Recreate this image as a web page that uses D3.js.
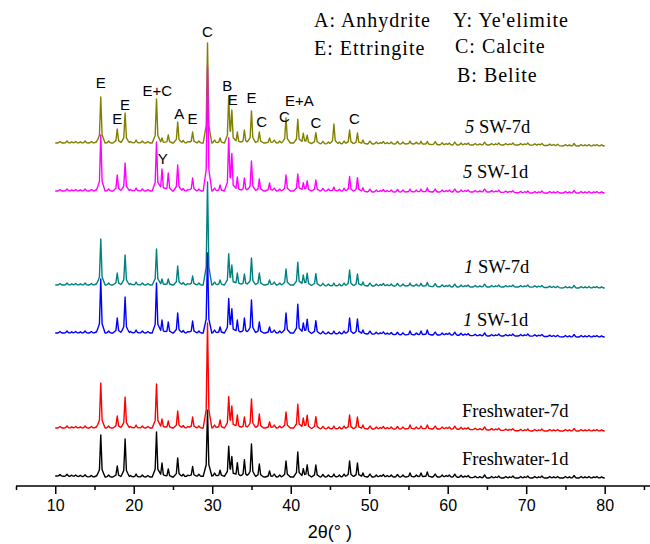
<!DOCTYPE html>
<html><head><meta charset="utf-8">
<script src="https://cdn.jsdelivr.net/npm/d3@7/dist/d3.min.js"></script>
<style>
html,body{margin:0;padding:0;background:#fff;}
svg{display:block;}
</style></head>
<body>
<svg id="chart" width="650" height="544"></svg>
<script>
// ---------- data ----------
const seriesNames = ["Freshwater-1d","Freshwater-7d","1 SW-1d","1 SW-7d","5 SW-1d","5 SW-7d"];
const seriesColors = ["#000000","#ff0000","#0000ff","#008080","#ff00ff","#808000"];
const xTickValues = [10,20,30,40,50,60,70,80];

// background level of each (vertically stacked) pattern, at these angles
const bgAngles = [10,15,20,25,30,35,40,45,50,55,60,65,70,75,80];
const bgFresh1 = [10,9,9,9,10,9,9,9,9,9,9,8,8,8,8];
const bgFresh7 = [58,58,58,58,58,58,58,57,57,57,57,56,55,55,55];
const bgSW1_1  = [153,153,153,153,153,153,153,152,152,151,151,150,150,149,149];
const bgSW1_7  = [201,201,201,201,201,201,201,200,200,200,199,199,199,198,198];
const bgSW5_1  = [295,295,295,295,295,295,295,295,294,294,294,294,293,293,293];
const bgSW5_7  = [343,343,343,343,343,343,343,342,342,342,341,341,341,340,340];

// main reflections (2θ) and peak heights above background for each pattern
const peakAngles = [15.8,17.9,18.9,20.3,22.9,23.6,24.4,25.6,27.5,29.4,31.0,32.1,32.5,33.2,34.1,35.0,36.0,37.3,39.4,40.9,41.6,42.1,43.2,45.5,47.5,48.5,49.2,55.2,56.6,57.4];
const hFresh1 = [42,11,38,3,45,14,8,19,10,66,6,29,18,14,17,33,13,6,16,25,8,12,12,3,16,14,4,4,4,5];
const hFresh7 = [45,12,31,3,44,9,7,17,11,105,8,30,20,13,11,29,14,6,16,24,10,13,12,3,14,12,4,4,3,4];
const hSW1_1  = [54,15,36,3,50,13,11,20,12,80,6,33,22,13,15,33,11,6,20,29,10,14,13,3,16,15,4,4,4,5];
const hSW1_7  = [46,12,30,3,36,6,6,19,9,103,5,30,18,12,11,27,12,5,16,23,10,12,12,3,16,12,4,3,3,4];
const hSW5_1  = [56,16,28,3,49,22,18,26,13,124,6,51,34,14,13,30,12,8,16,17,8,10,11,4,15,14,4,3,3,4];
const hSW5_7  = [46,14,30,3,44,5,8,21,11,100,5,45,30,11,13,32,11,5,25,24,10,8,11,20,14,11,4,3,3,3];

// weak reflections / background bumps common to all patterns
const minorAngles  = [10.6,11.5,12.1,12.6,13.2,13.8,14.6,15.2,16.8,19.6,21.1,21.8,26.3,26.9,28.3,30.3,37.9,38.6,44.1,44.8,46.2,46.8,50.1,50.9,51.4,51.8,52.3,52.8,53.6,54.3,56.0,58.4,59.3,59.8,60.2,60.9,61.7,62.2,62.6,63.5,64.1,64.7,65.6,66.1,66.5,67.4,67.9,68.3,69.3,69.8,70.2,71.1,71.6,72.0,73.0,73.5,74.0,75.0,75.5,76.1,77.0,77.5,78.0,78.6,79.0,79.6];
const minorHeights = [1.5,2,1.2,1.5,1.2,2,1.5,1.2,2,1.5,2,1.5,2.5,1.5,2,3,3,2,2.5,2,2,3,3,2,1.5,2.5,1.5,2,2.5,2,2,3,2,1.5,2,3,2,1.5,2,1.5,1.2,3,1.5,1.2,2,1.5,1.2,2,1.5,1.2,2,1.5,1.2,2,1.5,1.2,1.5,1.5,1.2,2.5,1.5,1.2,1.5,1.2,1.5,1.2];

// peak annotations
const annoText  = ["E","E","E","E+C","A","E","C","B","E","E","C","C","E+A","C","C","Y"];
const annoAngle = [15.8,17.9,18.9,23.0,25.8,27.5,29.4,31.9,32.6,35.0,36.3,39.2,41.1,43.2,48.1,23.7];
const annoLevel = [398,362,376,390,367,362,449,395,381,383,359,364,380,358,362,322];

const legendText = ["A: Anhydrite","Y: Ye'elimite","E: Ettringite","C: Calcite","B: Belite"];

// ---------- drawing ----------
const svg = d3.select("#chart");
const x = d3.scaleLinear().domain([5, 85.9]).range([16, 651]);
const y = d3.scaleLinear().domain([0, 486]).range([486, 0]);

const bgs = [bgFresh1,bgFresh7,bgSW1_1,bgSW1_7,bgSW5_1,bgSW5_7];
const hs  = [hFresh1,hFresh7,hSW1_1,hSW1_7,hSW5_1,hSW5_7];

function buildProfile(bg, heights){
  const bgScale = d3.scaleLinear().domain(bgAngles).range(bg);
  const peaks = peakAngles.map((p,i)=>({p, h:heights[i], w1:0.17, w2:0.55, f:0.75}))
    .concat(minorAngles.map((p,i)=>({p, h:minorHeights[i], w1:0.2, w2:0.35, f:0.6})));
  let xs = new Set(bgAngles);
  peaks.forEach(k=>{ [k.p-k.w2,k.p-k.w1,k.p,k.p+k.w1,k.p+k.w2].forEach(v=>{ if(v>=10&&v<=80) xs.add(+v.toFixed(3)); }); });
  xs = Array.from(xs).sort((a,b)=>a-b);
  return xs.map(t=>{
    let v = bgScale(t);
    peaks.forEach(k=>{
      const d = Math.abs(t-k.p);
      v += k.h*k.f*Math.max(0,1-d/k.w1) + k.h*(1-k.f)*Math.max(0,1-d/k.w2);
    });
    return [t,v];
  });
}

const line = d3.line().x(d=>x(d[0])).y(d=>y(d[1]));

// draw top pattern first so lower patterns sit on top
for(let s=5; s>=0; s--){
  svg.append("path")
    .datum(buildProfile(bgs[s], hs[s]))
    .attr("fill","none")
    .attr("stroke", seriesColors[s])
    .attr("stroke-width",1.4)
    .attr("stroke-linejoin","round")
    .attr("d", line);
}

// x axis
const axisG = svg.append("g").attr("transform","translate(0,486)");
axisG.append("line").attr("x1",16).attr("x2",650).attr("y1",0).attr("y2",0)
  .attr("stroke","#000").attr("stroke-width",1.5);
const majorAxis = d3.axisBottom(x).tickValues(xTickValues).tickSize(8).tickFormat(d3.format("d"));
const gMaj = axisG.append("g").call(majorAxis);
gMaj.select(".domain").remove();
gMaj.selectAll(".tick line").attr("stroke","#000").attr("stroke-width",1.5);
gMaj.selectAll(".tick text").attr("font-family","Liberation Sans, Arial, sans-serif")
  .attr("font-size",16).attr("fill","#000").attr("y",14);
const minorAxis = d3.axisBottom(x).tickValues([5,15,25,35,45,55,65,75,85]).tickSize(4).tickFormat("");
const gMin = axisG.append("g").call(minorAxis);
gMin.select(".domain").remove();
gMin.selectAll(".tick line").attr("stroke","#000").attr("stroke-width",1.5);

svg.append("text").attr("x", x(45)).attr("y",538).attr("text-anchor","middle")
  .attr("font-family","Liberation Sans, Arial, sans-serif").attr("font-size",18)
  .text("2θ(° )");

// series labels
const labelPos = [[462,465],[462,417],[463,326],[464,273],[463,178],[465,133]];
seriesNames.forEach((n,i)=>{
  const t = svg.append("text").attr("x",labelPos[i][0]).attr("y",labelPos[i][1])
    .attr("font-family","Liberation Serif, 'Times New Roman', serif").attr("font-size",18.5).attr("fill","#000");
  const m = n.match(/^(\d) (.*)$/);
  if(m){
    t.append("tspan").attr("font-style","italic").text(m[1]);
    t.append("tspan").text(" "+m[2]);
  } else t.text(n);
});

// peak annotations
annoText.forEach((s,i)=>{
  svg.append("text").attr("x",x(annoAngle[i])).attr("y",y(annoLevel[i]))
    .attr("text-anchor","middle").attr("font-family","Liberation Sans, Arial, sans-serif")
    .attr("font-size",15).attr("fill","#000").text(s);
});

// legend
const legendPos = [[314,27],[453,27],[314,55],[455,53],[457,82]];
legendText.forEach((s,i)=>{
  svg.append("text").attr("x",legendPos[i][0]).attr("y",legendPos[i][1])
    .attr("font-family","Liberation Serif, 'Times New Roman', serif").attr("font-size",20)
    .attr("letter-spacing",1).attr("fill","#000").text(s);
});
</script>
</body></html>
